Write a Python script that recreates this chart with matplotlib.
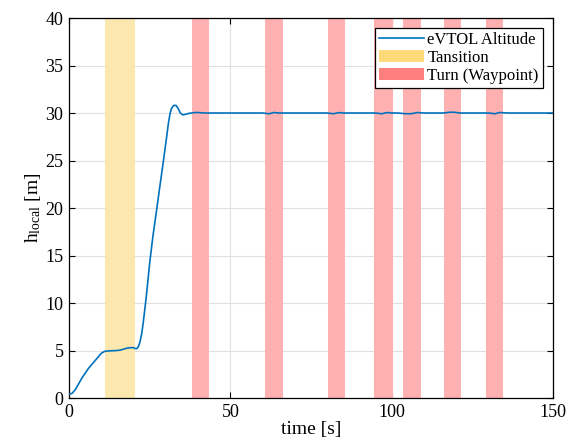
import numpy as np
import matplotlib.pyplot as plt
from matplotlib.patches import Patch
from matplotlib.lines import Line2D

# altitude samples
time_s = [0, 1, 2, 3, 4, 5, 6, 7, 8, 9, 10, 11, 12, 13, 14, 15, 16, 17, 18, 19, 20,
          20.5, 21, 21.5, 22, 22.5, 23, 24, 25, 26, 27, 28, 29, 30, 30.8, 31.3, 31.8,
          32.5, 33.2, 33.8, 34.5, 35.3, 36, 37, 38, 39, 40, 42, 45, 50, 55, 60, 62,
          63.5, 65, 67, 70, 75, 80, 82, 83.5, 85, 88, 92, 95, 97, 98.5, 100, 102,
          104, 106, 108, 110, 113, 116, 118, 119.5, 121, 124, 127, 130, 132, 133.5,
          136, 140, 145, 150]
h_local = [0.4, 0.5, 0.9, 1.5, 2.1, 2.6, 3.1, 3.5, 3.9, 4.3, 4.7, 4.9, 4.95, 4.97,
           4.98, 5.0, 5.05, 5.15, 5.25, 5.3, 5.3, 5.2, 5.2, 5.4, 5.9, 6.7, 7.9, 10.8,
           14.2, 17.0, 19.4, 21.9, 24.3, 26.8, 28.9, 29.9, 30.5, 30.8, 30.8, 30.5,
           30.0, 29.8, 29.85, 29.95, 30.0, 30.05, 30.05, 30.0, 30.0, 30.0, 30.0, 30.0,
           29.92, 30.05, 30.0, 30.0, 30.0, 30.0, 30.0, 29.92, 30.04, 30.0, 30.0, 30.0,
           30.0, 29.92, 30.05, 30.0, 30.0, 29.93, 29.92, 30.05, 30.0, 30.0, 30.0,
           30.08, 30.08, 30.0, 30.0, 30.0, 30.0, 29.92, 30.05, 30.0, 30.0, 30.0, 30.0]

transition = (11.2, 20.5)
turn_start = [38.1, 60.7, 80.3, 94.5, 103.5, 116.2, 129.2]
turn_end = [43.4, 66.3, 85.5, 100.4, 109.1, 121.5, 134.5]

plt.rcParams['font.family'] = ['Liberation Serif', 'DejaVu Serif']
plt.rcParams['mathtext.fontset'] = 'stix'

fig = plt.figure(figsize=(5.73, 4.48), dpi=100)
ax = fig.add_axes([0.1204, 0.1116, 0.8447, 0.8482])

ax.axvspan(*transition, color='#fce8ae', lw=0, zorder=1)
for a, b in zip(turn_start, turn_end):
    ax.axvspan(a, b, color='#ffb1b1', lw=0, zorder=1)

ax.plot(time_s, h_local, color='#0072bd', lw=1.2, zorder=3)

ax.set_xlim(0, 150)
ax.set_ylim(0, 40)
ax.set_xticks([0, 50, 100, 150])
ax.set_yticks(np.arange(0, 41, 5))
ax.grid(True, color='#e0e0e0', lw=0.8, zorder=0)
ax.set_axisbelow(True)
ax.tick_params(direction='in', top=True, right=True, labelsize=13, length=4,
               width=0.8, pad=4)
for s in ax.spines.values():
    s.set_linewidth(0.9)

ax.set_xlabel('time [s]', fontsize=14, labelpad=0)
ax.set_ylabel(r'$\mathregular{h_{local}}$ [m]', fontsize=14, labelpad=2)

handles = [Line2D([], [], color='#0072bd', lw=1.2),
           Patch(facecolor='#fdd97a', edgecolor='none'),
           Patch(facecolor='#ff7f7f', edgecolor='none')]
leg = ax.legend(handles, ['eVTOL Altitude', 'Tansition', 'Turn (Waypoint)'],
                loc='upper right', fontsize=12, fancybox=False, framealpha=1,
                edgecolor='black', borderpad=0.25, labelspacing=0.1,
                handlelength=2.7, handletextpad=0.2, borderaxespad=0.6)
leg.get_frame().set_linewidth(0.9)

fig.savefig('out.png', dpi=100)
